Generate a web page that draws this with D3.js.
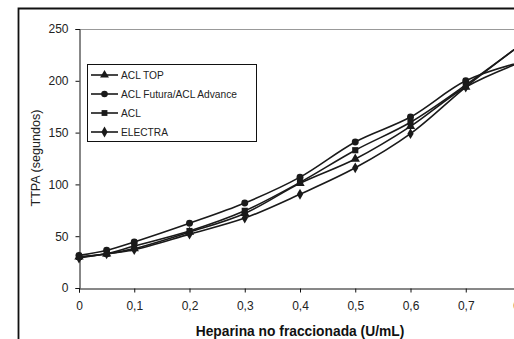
<!DOCTYPE html>
<html><head><meta charset="utf-8">
<script src="https://cdn.jsdelivr.net/npm/d3@7/dist/d3.min.js"></script>
<style>body{margin:0;background:#fff;}svg{display:block;font-family:"Liberation Sans",Arial,sans-serif;}</style>
</head><body>
<svg id="c" width="514" height="339"></svg>
<script>
const xValues = [0, 0.05, 0.1, 0.2, 0.3, 0.4, 0.5, 0.6, 0.7, 0.8];
const seriesNames = ["ACL TOP", "ACL Futura/ACL Advance", "ACL", "ELECTRA"];
const seriesSymbols = ["triangle", "circle", "square", "diamond"];
const aclTop    = [30, 33, 38, 54, 72, 101, 124.5, 156, 194, 218];
const aclFutura = [31.5, 36.5, 44.5, 62.5, 82, 107, 141, 165, 200, 218];
const acl       = [30, 33, 40.5, 55, 74.5, 102, 133, 160, 196, 235];
const electra   = [29, 33, 37, 52, 67.5, 90.5, 116, 149, 194, 235];
const yTicks = [0, 50, 100, 150, 200, 250];
const xTicks = [0, 0.1, 0.2, 0.3, 0.4, 0.5, 0.6, 0.7, 0.8];
const xTickLabels = ["0", "0,1", "0,2", "0,3", "0,4", "0,5", "0,6", "0,7", "0,8"];
const yTitle = "TTPA (segundos)";
const xTitle = "Heparina no fraccionada (U/mL)";

const allSeries = [aclTop, aclFutura, acl, electra];
const svg = d3.select("#c");
const x = d3.scaleLinear().domain([0, 0.8]).range([79, 521]);
const y = d3.scaleLinear().domain([0, 250]).range([288, 29]);

// outer frame
svg.append("path").attr("d", "M18.5,339 V8.5 H514").attr("fill", "none").attr("stroke", "#111").attr("stroke-width", 1.8);

// plot area top border (gray)
svg.append("line").attr("x1", 79).attr("x2", 514).attr("y1", y(250)+0.5).attr("y2", y(250)+0.5).attr("stroke", "#999").attr("stroke-width", 1);

// y axis
const ya = svg.append("g").attr("transform", "translate(79.5,0)")
  .call(d3.axisLeft(y).tickValues(yTicks).tickSize(4).tickPadding(7).tickFormat(d3.format("d")));
ya.select(".domain").attr("stroke", "#111");
ya.selectAll("line").attr("stroke", "#111");
ya.selectAll("text").attr("font-size", 12).attr("fill", "#222").attr("font-family", "Liberation Sans, Arial");

// x axis
const xa = svg.append("g").attr("transform", "translate(0,288.5)")
  .call(d3.axisBottom(x).tickValues(xTicks).tickSize(4).tickPadding(9).tickFormat((d, i) => xTickLabels[i]));
xa.select(".domain").attr("stroke", "#111");
xa.selectAll("line").attr("stroke", "#111");
xa.selectAll("text").attr("font-size", 12).attr("fill", "#222").attr("font-family", "Liberation Sans, Arial");

// titles
svg.append("text").attr("transform", "translate(40,158) rotate(-90)").attr("text-anchor", "middle")
  .attr("font-size", 12.6).attr("fill", "#222").text(yTitle);
svg.append("text").attr("x", 300).attr("y", 336).attr("text-anchor", "middle")
  .attr("font-size", 13.8).attr("font-weight", "bold").attr("fill", "#111").text(xTitle);

const symMap = {triangle: d3.symbolTriangle, circle: d3.symbolCircle, square: d3.symbolSquare, diamond: d3.symbolDiamond};
const line = d3.line().x((d, i) => x(xValues[i])).y(d => y(d)).curve(d3.curveCatmullRom.alpha(0.5));

const plot = svg.append("g");
plot.append("clipPath").attr("id", "clip").append("rect").attr("x", 0).attr("y", 0).attr("width", 514).attr("height", 339);
const pg = plot.append("g").attr("clip-path", "url(#clip)");
allSeries.forEach((s, k) => {
  pg.append("path").attr("d", line(s)).attr("fill", "none").attr("stroke", "#1a1a1a").attr("stroke-width", 1.6);
});
allSeries.forEach((s, k) => {
  pg.selectAll(null).data(s).enter().append("path")
    .attr("transform", (d, i) => `translate(${x(xValues[i])},${y(d)})`)
    .attr("d", d3.symbol().type(symMap[seriesSymbols[k]]).size(seriesSymbols[k] === "diamond" ? 34 : 38))
    .attr("fill", "#1a1a1a");
});

// legend
const lg = svg.append("g");
lg.append("rect").attr("x", 87.5).attr("y", 64.5).attr("width", 169).attr("height", 77).attr("fill", "#fff").attr("stroke", "#111").attr("stroke-width", 1);
const legY = [75, 94, 113, 132];
seriesNames.forEach((n, k) => {
  lg.append("line").attr("x1", 91).attr("x2", 118).attr("y1", legY[k]).attr("y2", legY[k]).attr("stroke", "#1a1a1a").attr("stroke-width", 1.6);
  lg.append("path").attr("transform", `translate(104.5,${legY[k]})`)
    .attr("d", d3.symbol().type(symMap[seriesSymbols[k]]).size(34)).attr("fill", "#1a1a1a");
  lg.append("text").attr("x", 121).attr("y", legY[k] + 3.7).attr("font-size", 10.2).attr("fill", "#222").text(n);
});
</script>
</body></html>
